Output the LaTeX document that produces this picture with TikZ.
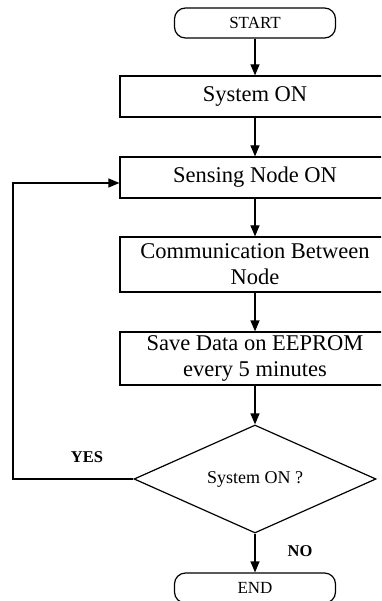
\documentclass[tikz,border=0pt]{standalone}
\usepackage{fontspec}
\setmainfont{Liberation Serif}
\usetikzlibrary{arrows.meta,shapes.geometric}
\begin{document}
\begin{tikzpicture}[x=1pt,y=-1pt,
  line width=1.2pt,
  proc/.style={draw,rectangle,minimum width=270pt,inner sep=0pt,align=center,font=\fontsize{22.5}{26}\selectfont},
  term/.style={draw,rectangle,rounded corners=11pt,minimum width=161pt,minimum height=30pt,inner sep=0pt,font=\fontsize{17}{20}\selectfont},
  dec/.style={draw,diamond,aspect=2.24,minimum width=242pt,minimum height=108pt,inner sep=0pt,font=\fontsize{18}{20}\selectfont},
  lbl/.style={font=\fontsize{16.5}{20}\selectfont\bfseries},
  arr/.style={-{Triangle[length=11pt,width=9pt]}}]
\useasboundingbox (0,0) rectangle (381,601);
\clip (0,0) rectangle (381,601);
\node[term] (start) at (255,23) {START};
\node[proc,minimum height=41pt] (sys) at (255,96.5) {System ON};
\node[proc,minimum height=41pt] (sense) at (255,177.5) {Sensing Node ON};
\node[proc,minimum height=55pt] (comm) at (255,264.5) {Communication Between\\Node};
\node[proc,minimum height=53pt] (save) at (255,358.5) {Save Data on EEPROM\\every 5 minutes};
\node[dec] (chk) at (255,479) {System ON ?};
\node[term] (end) at (255,588) {END};
\coordinate (c1) at (13,479);
\coordinate (c2) at (13,183);
\coordinate (c3) at (sense.west |- c2);
\draw[arr] (start) -- (sys);
\draw[arr] (sys) -- (sense);
\draw[arr] (sense) -- (comm);
\draw[arr] (comm) -- (save);
\draw[arr] (save) -- (chk);
\draw[arr] (chk) -- (end);
\draw[arr] (chk.west) -- (c1) -- (c2) -- (c3);
\node[lbl] (yes) at (87,457) {YES};
\node[lbl] (no) at (300,551) {NO};
\end{tikzpicture}
\end{document}
